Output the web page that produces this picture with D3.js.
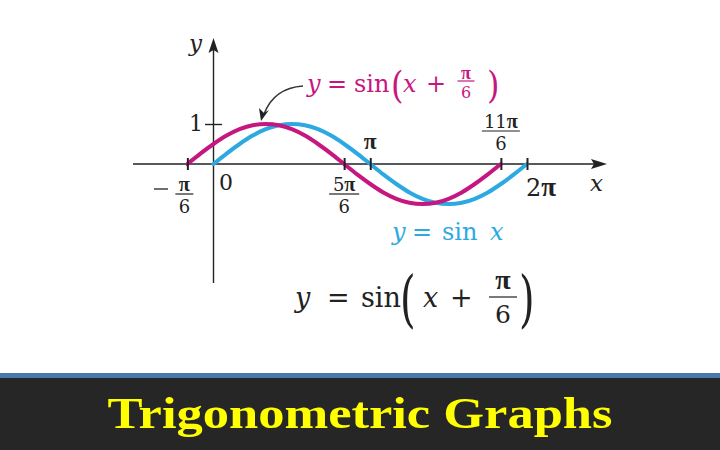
<!DOCTYPE html>
<html><head><meta charset="utf-8">
<script src="https://cdn.jsdelivr.net/npm/d3@7"></script>
<style>
html,body{margin:0;padding:0;background:#fff;}
svg{display:block;}
text{font-family:"DejaVu Serif",serif;}
</style></head>
<body><svg id="c" width="720" height="450"></svg>
<script>
// ---- data (x in twelfths of pi) ----
const sinX   = [0,1,2,3,4,5,6,7,8,9,10,11,12,13,14,15,16,17,18,19,20,21,22,23,24];
const sinY   = [0,0.26,0.5,0.71,0.87,0.97,1,0.97,0.87,0.71,0.5,0.26,0,-0.26,-0.5,-0.71,-0.87,-0.97,-1,-0.97,-0.87,-0.71,-0.5,-0.26,0];
const shiftX = [-2,-1,0,1,2,3,4,5,6,7,8,9,10,11,12,13,14,15,16,17,18,19,20,21,22];
const shiftY = [0,0.26,0.5,0.71,0.87,0.97,1,0.97,0.87,0.71,0.5,0.26,0,-0.26,-0.5,-0.71,-0.87,-0.97,-1,-0.97,-0.87,-0.71,-0.5,-0.26,0];
const xTickValues = [-2,10,12,22,24];          // twelfths of pi
const yTickValues = [1];
const titleText = "Trigonometric Graphs";

const svg = d3.select("#c");
const x = d3.scaleLinear().domain([0,24]).range([213.5,527]);
const y = d3.scaleLinear().domain([-1,1]).range([204,124]);
const axisCol = "#222";
const magenta = "#C5177F", blue = "#2DA9E1";
const PI_FONT = "'Liberation Serif','Times New Roman',serif";

// axes lines
svg.append("line").attr("x1",133).attr("x2",600).attr("y1",y(0)).attr("y2",y(0))
  .attr("stroke",axisCol).attr("stroke-width",1.4);
svg.append("line").attr("x1",x(0)).attr("x2",x(0)).attr("y1",283).attr("y2",46)
  .attr("stroke",axisCol).attr("stroke-width",1.4);
// arrow heads
svg.append("path").attr("d",`M607,${y(0)} L591,${y(0)-5} L594,${y(0)} L591,${y(0)+5} Z`).attr("fill",axisCol);
svg.append("path").attr("d",`M${x(0)},38 L${x(0)-5},53 L${x(0)},50 L${x(0)+5},53 Z`).attr("fill",axisCol);

// curves
const line = d3.line().curve(d3.curveMonotoneX);
svg.append("path").attr("d", line(sinX.map((d,i)=>[x(d),y(sinY[i])])))
  .attr("fill","none").attr("stroke",blue).attr("stroke-width",4).attr("stroke-linecap","round");
svg.append("path").attr("d", line(shiftX.map((d,i)=>[x(d),y(shiftY[i])])))
  .attr("fill","none").attr("stroke",magenta).attr("stroke-width",4).attr("stroke-linecap","round");

// ticks via axes
const gx = svg.append("g").attr("transform",`translate(0,${y(0)-6})`)
  .call(d3.axisBottom(x).tickValues(xTickValues).tickSizeInner(12).tickSizeOuter(0).tickFormat(""));
gx.select(".domain").remove();
gx.selectAll(".tick line").attr("stroke",axisCol).attr("stroke-width",2);
const gy = svg.append("g").attr("transform",`translate(${x(0)+8.5},0)`)
  .call(d3.axisLeft(y).tickValues(yTickValues).tickSizeInner(17).tickSizeOuter(0).tickFormat(""));
gy.select(".domain").remove();
gy.selectAll(".tick line").attr("stroke",axisCol).attr("stroke-width",1.4);

// text helpers
function t(txt,xx,yy,size,opts={}){
  const el = svg.append("text").attr("x",xx).attr("y",yy).attr("font-size",size)
    .attr("fill",opts.fill||"#222").attr("text-anchor",opts.anchor||"start")
    .attr("font-style",opts.italic?"italic":"normal").attr("font-weight",opts.bold?"bold":"normal");
  for (const ch of txt.split(/(π)/).filter(s=>s.length)) {
    const sp = el.append("tspan").text(ch);
    if (ch==="π") sp.style("font-family",PI_FONT).attr("font-size",size*1.12).attr("font-weight","bold");
  }
  return el;
}
function frac(top,bot,cx,barY,size,col,w,gapTop=3){
  t(top,cx,barY-gapTop,size,{anchor:"middle",fill:col});
  t(bot,cx,barY+size*1.05,size,{anchor:"middle",fill:col});
  svg.append("line").attr("x1",cx-w/2).attr("x2",cx+w/2).attr("y1",barY).attr("y2",barY)
    .attr("stroke",col).attr("stroke-width",1.2);
}
function bigParen(ch,xx,baseY,size,sy,col){
  svg.append("text").attr("font-size",size).attr("fill",col||"#222")
    .attr("transform",`translate(${xx},${baseY}) scale(1,${sy})`).attr("x",0).attr("y",0).text(ch);
}

// axis labels
t("y",189,51,23,{italic:true});
t("x",590,191,23,{italic:true});
t("1",189,131,22);
t("0",219,190,22);
// -pi/6
svg.append("line").attr("x1",154).attr("x2",168).attr("y1",189).attr("y2",189).attr("stroke","#222").attr("stroke-width",1.3);
frac("π","6",x(-2)-3,194,18,"#222",18);
frac("5π","6",x(10),194,18,"#222",30);
t("π",x(12),149,21,{anchor:"middle"});
frac("11π","6",x(22),131,18,"#222",38);
t("2π",x(24)+14,196,24,{anchor:"middle"});

// magenta label
t("y",307,92,24,{italic:true,fill:magenta});
t("=",327,92,24,{fill:magenta});
t("sin",354,92,24,{fill:magenta});
bigParen("(",391,98,32,1.15,magenta);
t("x",403,92,24,{italic:true,fill:magenta});
t("+",426,92,24,{fill:magenta});
frac("π","6",466,81,16,magenta,17,2);
bigParen(")",487,98,32,1.15,magenta);

// pointer arrow
svg.append("path").attr("d","M303,86 Q274,88 264,114").attr("fill","none").attr("stroke","#333").attr("stroke-width",1.5);
svg.append("path").attr("d","M261,121 L259,108 L264,113 L269,110 Z").attr("fill","#222");

// blue label
t("y",392,240,24,{italic:true,fill:blue});
t("=",412,240,24,{fill:blue});
t("sin",442,240,24,{fill:blue});
t("x",490,240,24,{italic:true,fill:blue});

// bottom formula
t("y",295,307,27,{italic:true});
t("=",327,307,27);
t("sin",361,307,27);
bigParen("(",400,320,40,1.55,"#222");
t("x",423,307,27,{italic:true});
t("+",450,307,27);
frac("π","6",503,297,25,"#222",28,8);
bigParen(")",519,320,40,1.55,"#222");

// title bar
svg.append("rect").attr("x",0).attr("y",373).attr("width",720).attr("height",5).attr("fill","#4A77AE");
svg.append("rect").attr("x",0).attr("y",378).attr("width",720).attr("height",72).attr("fill","#262626");
svg.append("text").attr("x",360).attr("y",428).attr("text-anchor","middle")
  .style("font-family",PI_FONT)
  .attr("font-size",44).attr("font-weight","bold").attr("fill","#FFFF00")
  .attr("textLength",505).attr("lengthAdjust","spacingAndGlyphs").text(titleText);
</script></body></html>
